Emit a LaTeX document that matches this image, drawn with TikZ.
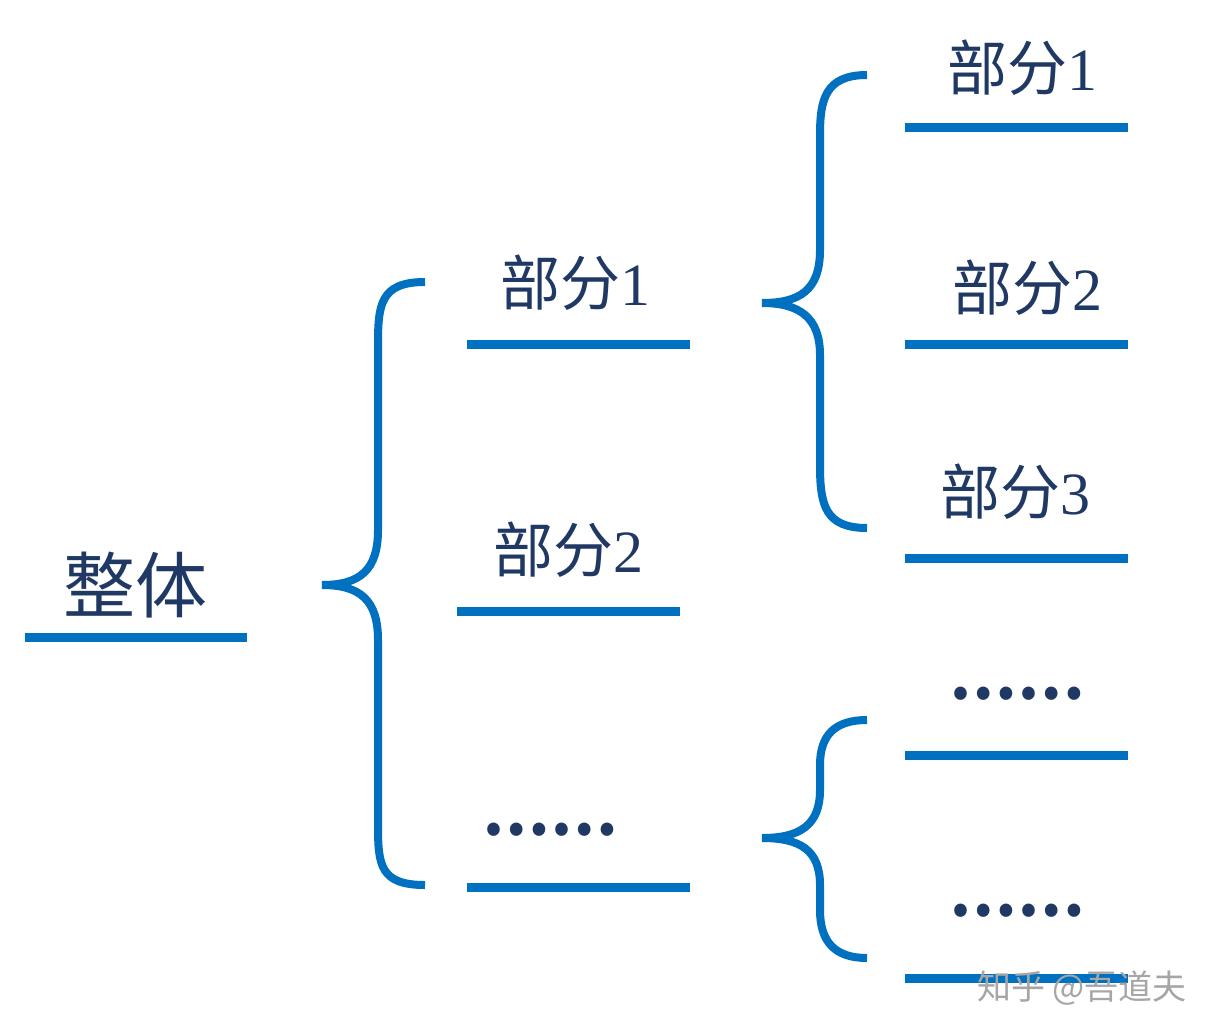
\documentclass[tikz,border=0pt]{standalone}
\usepackage{fontspec}
\newfontfamily\cjk{Noto Sans CJK SC}
\setmainfont{Liberation Serif}
\definecolor{navy}{HTML}{1F3864}
\definecolor{blue}{HTML}{0070C0}
\begin{document}
\begin{tikzpicture}[x=1pt,y=-1pt,
  lbl/.style={text=navy,font=\fontsize{60}{60}\selectfont,inner sep=0pt},
  dots/.style={text=navy,font=\fontsize{60}{60}\bfseries,inner sep=0pt},
  ul/.style={blue,line width=9pt},
  br/.style={blue,line width=8pt,line cap=butt}]
\useasboundingbox (0,0) rectangle (1230,1035);
\fill[white] (0,0) rectangle (1230,1035);
% whole
\node[lbl,font=\fontsize{72}{72}\selectfont] (whole) at (135,585) {\cjk 整体};
\coordinate (w1) at (25,637); \coordinate (w2) at (247,637);
\draw[ul] (w1) -- (w2);
% big brace
\coordinate (bA) at (425,282); \coordinate (bT) at (322,585); \coordinate (bB) at (425,885);
\draw[br] (bA) .. controls (380,282) and (378,305) .. (378,345) -- (378,530)
  .. controls (378,570) and (360,585) .. (bT)
  .. controls (360,585) and (378,600) .. (378,640) -- (378,825)
  .. controls (378,865) and (380,885) .. (bB);
% level 2
\node[lbl] (p1) at (575,283) {{\cjk 部分}1};
\coordinate (p1a) at (467,344); \coordinate (p1b) at (690,344); \draw[ul] (p1a) -- (p1b);
\node[lbl] (p2) at (568,550) {{\cjk 部分}2};
\coordinate (p2a) at (457,611); \coordinate (p2b) at (680,611); \draw[ul] (p2a) -- (p2b);
\node[dots] (pd) at (550,830) {\cjk ……};
\coordinate (pda) at (467,887); \coordinate (pdb) at (690,887); \draw[ul] (pda) -- (pdb);
% brace 2
\coordinate (cA) at (867,75); \coordinate (cT) at (762,303); \coordinate (cB) at (867,528);
\draw[br] (cA) .. controls (825,75) and (820,100) .. (820,135) -- (820,250)
  .. controls (820,290) and (800,303) .. (cT)
  .. controls (800,303) and (820,318) .. (820,355) -- (820,465)
  .. controls (820,505) and (825,528) .. (cB);
% brace 3
\coordinate (dA) at (867,720); \coordinate (dT) at (762,838); \coordinate (dB) at (867,958);
\draw[br] (dA) .. controls (835,720) and (820,735) .. (820,765) -- (820,790)
  .. controls (820,825) and (800,838) .. (dT)
  .. controls (800,838) and (820,850) .. (820,885) -- (820,910)
  .. controls (820,942) and (835,958) .. (dB);
% level 3
\node[lbl] (q1) at (1022,68) {{\cjk 部分}1};
\coordinate (q1a) at (905,128); \coordinate (q1b) at (1128,128); \draw[ul] (q1a) -- (q1b);
\node[lbl] (q2) at (1027,288) {{\cjk 部分}2};
\coordinate (q2a) at (905,344); \coordinate (q2b) at (1128,344); \draw[ul] (q2a) -- (q2b);
\node[lbl] (q3) at (1015,492) {{\cjk 部分}3};
\coordinate (q3a) at (905,558); \coordinate (q3b) at (1128,558); \draw[ul] (q3a) -- (q3b);
\node[dots] (q4) at (1017,694) {\cjk ……};
\coordinate (q4a) at (905,755); \coordinate (q4b) at (1128,755); \draw[ul] (q4a) -- (q4b);
\node[dots] (q5) at (1017,911) {\cjk ……};
\coordinate (q5a) at (905,978); \coordinate (q5b) at (1128,978); \draw[ul] (q5a) -- (q5b);
% watermark
\node[text=gray!70,font=\fontsize{34}{34}\selectfont,inner sep=0pt] (wm) at (1082,988) {\cjk 知乎 @吾道夫};
\end{tikzpicture}
\end{document}
